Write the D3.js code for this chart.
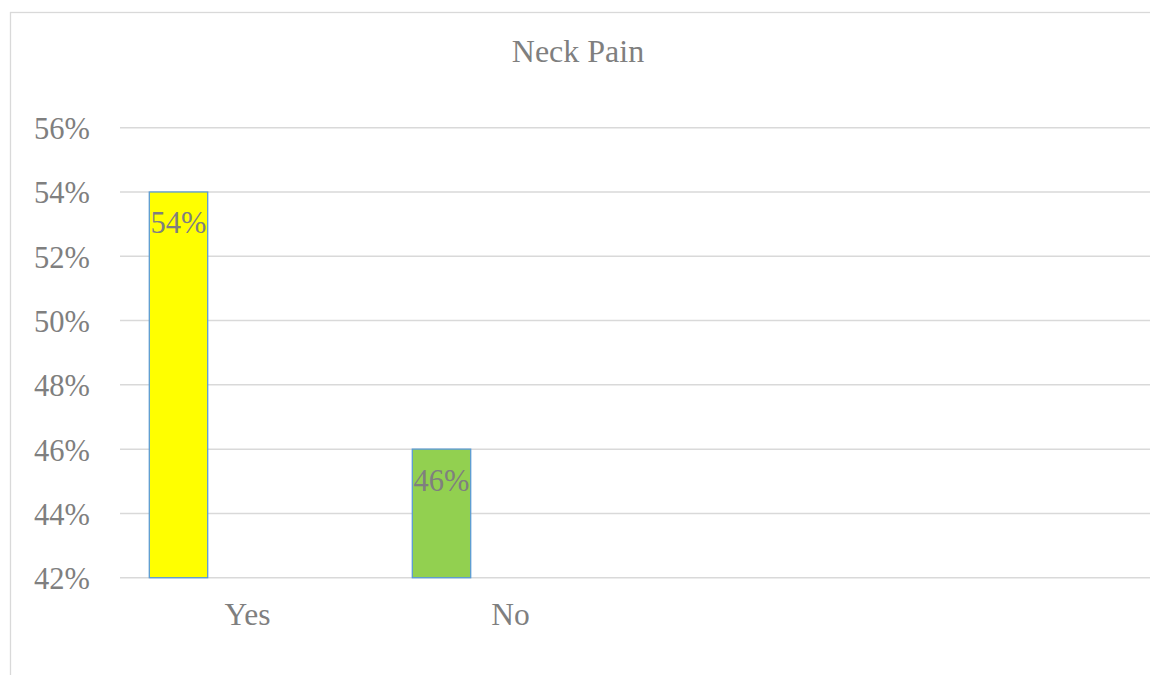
<!DOCTYPE html>
<html>
<head>
<meta charset="utf-8">
<script src="https://cdn.jsdelivr.net/npm/d3@7"></script>
<style>
  html, body { margin: 0; padding: 0; background: #ffffff; }
  svg { display: block; }
</style>
</head>
<body>
<svg id="chart" width="1150" height="675"></svg>
<script>
// Survey answers for neck pain
const title = "Neck Pain";
const categories = ["Yes", "No"];
const shares = [0.54, 0.46];
const barColors = ["#ffff00", "#92d050"];
const yTicks = [0.42, 0.44, 0.46, 0.48, 0.50, 0.52, 0.54, 0.56];

const FONT = "'Liberation Serif', Tinos, 'Times New Roman', Times, 'DejaVu Serif', serif";
const TEXT_COLOR = "#7f7f7f";

const svg = d3.select("#chart");
const W = 1150, H = 675;

// chart frame (extends past the right and bottom edges)
svg.append("rect")
  .attr("x", 10.5).attr("y", 12.5)
  .attr("width", W + 20).attr("height", H + 20)
  .attr("fill", "#ffffff")
  .attr("stroke", "#d9d9d9").attr("stroke-width", 1.3);

const plotLeft = 120, plotRight = W + 30;
const y = d3.scaleLinear().domain([0.42, 0.56]).range([577.7, 127.7]);

const step = 263;
const x = d3.scaleBand()
  .domain(categories)
  .range([116, 116 + step * categories.length])
  .padding(0);

// horizontal gridlines
svg.append("g")
  .selectAll("line")
  .data(yTicks)
  .join("line")
  .attr("x1", plotLeft).attr("x2", plotRight)
  .attr("y1", d => y(d)).attr("y2", d => y(d))
  .attr("stroke", "#d9d9d9").attr("stroke-width", 1.5);

function styleText(sel, size) {
  return sel.attr("font-family", FONT)
    .attr("font-size", size)
    .attr("fill", TEXT_COLOR);
}

// y axis labels
const fmt = d3.format(".0%");
svg.append("g")
  .selectAll("text")
  .data(yTicks)
  .join("text")
  .attr("x", 90)
  .attr("y", d => y(d) + 11.5)
  .attr("text-anchor", "end")
  .call(styleText, 30.5)
  .text(d => fmt(d));

// bars
const barOffset = 33.3;
const barWidth = 58.4;
const data = categories.map((c, i) => ({ cat: c, v: shares[i], color: barColors[i] }));

svg.append("g")
  .selectAll("rect")
  .data(data)
  .join("rect")
  .attr("x", d => x(d.cat) + barOffset)
  .attr("y", d => y(d.v))
  .attr("width", barWidth)
  .attr("height", d => y(0.42) - y(d.v))
  .attr("fill", d => d.color)
  .attr("stroke", "#5b9bd5")
  .attr("stroke-width", 1.3);

// value labels inside bar tops
svg.append("g")
  .selectAll("text")
  .data(data)
  .join("text")
  .attr("x", d => x(d.cat) + barOffset + barWidth / 2)
  .attr("y", d => y(d.v) + 41.5)
  .attr("text-anchor", "middle")
  .call(styleText, 30.5)
  .text(d => fmt(d.v));

// category labels
svg.append("g")
  .selectAll("text")
  .data(categories)
  .join("text")
  .attr("x", d => x(d) + x.bandwidth() / 2)
  .attr("y", 625)
  .attr("text-anchor", "middle")
  .call(styleText, 31.5)
  .text(d => d);

// title
svg.append("text")
  .attr("x", 578)
  .attr("y", 62)
  .attr("text-anchor", "middle")
  .call(styleText, 32)
  .text(title);
</script>
</body>
</html>
